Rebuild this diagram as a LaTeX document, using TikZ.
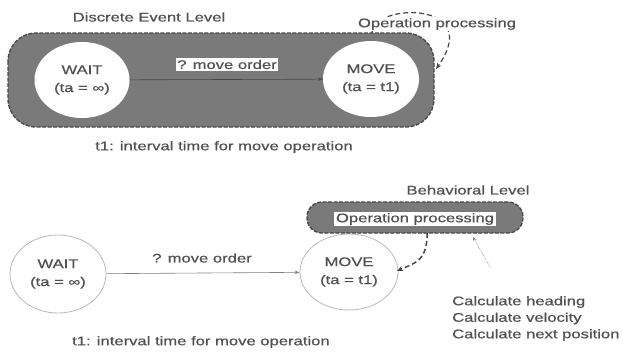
\documentclass[tikz,border=0pt]{standalone}
\usepackage{fontspec}
\setmainfont{Liberation Sans}[FakeStretch=1.33,FakeBold=0.6]
\usetikzlibrary{shapes.geometric,arrows.meta}
\definecolor{txt}{RGB}{80,80,80}
\definecolor{boxfill}{RGB}{122,122,122}
\definecolor{boxedge}{RGB}{70,70,70}
\definecolor{lightedge}{RGB}{185,185,185}
\begin{document}
\begin{tikzpicture}[x=1pt,y=-1pt,
  every node/.style={text=txt,font=\fontsize{12.5}{18}\selectfont},
  lbl/.style={inner sep=0pt},
  state/.style={ellipse,inner sep=0pt,align=center},
  whitestate/.style={state,fill=white},
  outlinestate/.style={state,draw=lightedge,line width=0.8pt},
  levelbox/.style={draw=boxedge,fill=boxfill,dashed,dash pattern=on 4pt off 1.5pt,line width=1.3pt},
  tagbox/.style={fill=white,inner sep=1.5pt},
  trans/.style={-{Stealth[length=5pt,width=3.5pt]},line width=0.6pt},
  loopline/.style={dashed,dash pattern=on 5pt off 3pt,line width=1.5pt,draw=boxedge,-{Stealth[length=6pt,width=5pt]}}
]
\useasboundingbox (0,0) rectangle (623,351);

% ---------------- top: discrete event level ----------------
\node[lbl] (del) at (149,17) {Discrete Event Level};
\filldraw[levelbox,rounded corners=28pt] (8,33) rectangle (434,127);
\node[whitestate,minimum width=95pt,minimum height=76pt] (wait1) at (82,80) {WAIT\\(ta = ∞)};
\node[whitestate,minimum width=96pt,minimum height=76pt] (move1) at (371,79) {MOVE\\(ta = t1)};
\draw[trans,draw=boxedge] (wait1) -- (move1);
\node[tagbox] (mo1) at (227,64.5) {? move order};
\coordinate (lpA) at (372,33);
\coordinate (lpB) at (436,69);
\draw[loopline,line width=1.2pt] (lpA) .. controls (372,3) and (485,0) .. (lpB);
\node[lbl,fill=white,inner sep=1pt] (op1) at (437,24) {Operation processing};
\node[lbl] (t1a) at (224,147) {t1: interval time for move operation};

% ---------------- bottom: behavioral level ----------------
\node[outlinestate,minimum width=96pt,minimum height=78pt] (wait2) at (58,274) {WAIT\\(ta = ∞)};
\node[outlinestate,minimum width=98pt,minimum height=76pt] (move2) at (349,272) {MOVE\\(ta = t1)};
\draw[trans,draw=gray] (wait2) -- (move2);
\node[lbl] (mo2) at (202,258) {? move order};
\node[lbl] (bl) at (468,190) {Behavioral Level};
\node[levelbox,rounded corners=15pt,minimum width=216pt,minimum height=31pt,inner sep=0pt] (bbox) at (415,217.5) {};
\node[tagbox] (op2) at (415,219) {Operation processing};
\coordinate (bstart) at (427,233);
\coordinate (mtip) at (397,271);
\draw[loopline] (bstart) .. controls (428,262) and (412,264) .. (mtip);
\node[lbl,align=left,anchor=north west,font=\fontsize{12.5}{16.5}\selectfont] (calc) at (452,296)
  {Calculate heading\\Calculate velocity\\Calculate next position};
\coordinate (ctip) at (473,237);
\coordinate (cfrom) at (490,267);
\draw[densely dotted,draw=gray,line width=0.6pt,-{Stealth[length=4pt,width=3pt]}] (cfrom) -- (ctip);
\node[lbl,anchor=west] (t1b) at (72,342) {t1: interval time for move operation};
\end{tikzpicture}
\end{document}
